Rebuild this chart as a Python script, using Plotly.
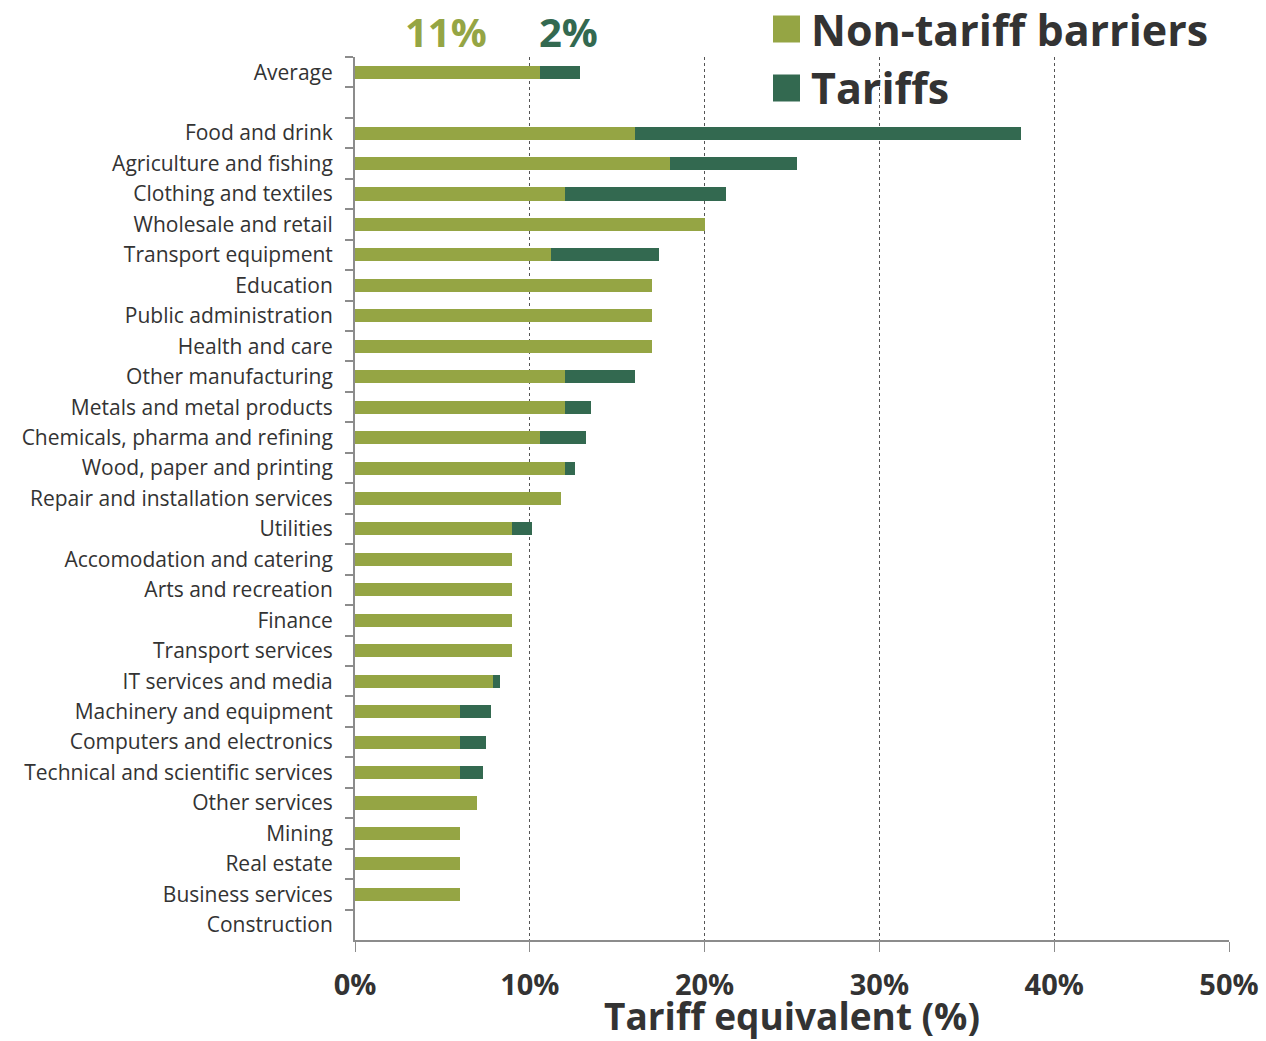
import plotly.graph_objects as go

categories = ["Average", " ", "Food and drink", "Agriculture and fishing", "Clothing and textiles",
              "Wholesale and retail", "Transport equipment", "Education", "Public administration",
              "Health and care", "Other manufacturing", "Metals and metal products",
              "Chemicals, pharma and refining", "Wood, paper and printing",
              "Repair and installation services", "Utilities", "Accomodation and catering",
              "Arts and recreation", "Finance", "Transport services", "IT services and media",
              "Machinery and equipment", "Computers and electronics",
              "Technical and scientific services", "Other services", "Mining", "Real estate",
              "Business services", "Construction"]

non_tariff = [10.6, None, 16.0, 18.0, 12.0, 20.0, 11.2, 17.0, 17.0, 17.0, 12.0, 12.0, 10.6, 12.0,
              11.8, 9.0, 9.0, 9.0, 9.0, 9.0, 7.9, 6.0, 6.0, 6.0, 7.0, 6.0, 6.0, 6.0, 0.0]
tariffs = [2.3, None, 22.1, 7.3, 9.2, 0.0, 6.2, 0.0, 0.0, 0.0, 4.0, 1.5, 2.6, 0.6,
           0.0, 1.1, 0.0, 0.0, 0.0, 0.0, 0.4, 1.8, 1.5, 1.3, 0.0, 0.0, 0.0, 0.0, 0.0]

avg_labels = ["11%", "2%"]
x_ticks = [0, 10, 20, 30, 40, 50]
x_tick_labels = ["0%", "10%", "20%", "30%", "40%", "50%"]

C_NTB = "#95A544"
C_TAR = "#336950"
TXT = "#333333"
FONT = "Open Sans"

fig = go.Figure()
fig.add_trace(go.Bar(y=categories, x=non_tariff, orientation="h", name="Non-tariff barriers",
                     marker=dict(color=C_NTB, line=dict(width=0)), showlegend=False))
fig.add_trace(go.Bar(y=categories, x=tariffs, orientation="h", name="Tariffs",
                     marker=dict(color=C_TAR, line=dict(width=0)), showlegend=False))

fig.update_layout(
    barmode="stack",
    bargap=0.57,
    width=1266, height=1041,
    margin=dict(l=355, r=37, t=57, b=101),
    paper_bgcolor="white", plot_bgcolor="white",
    font=dict(family=FONT, color=TXT),
    xaxis=dict(range=[0, 50], tickvals=x_ticks, ticktext=x_tick_labels,
               automargin=False,
               showgrid=True, gridcolor="#555555", griddash="dot", gridwidth=1,
               showline=True, linecolor="#8c8c8c", linewidth=2,
               ticks="outside", ticklen=10, tickcolor="#8c8c8c", tickwidth=1,
               ticklabelstandoff=8,
               tickfont=dict(family=FONT, size=29, color=TXT, weight="bold"),
               zeroline=False,
               title=dict(text="<b>Tariff equivalent (%)</b>", font=dict(family=FONT, size=37, color=TXT),
                          standoff=3)),
    yaxis=dict(categoryorder="array", categoryarray=categories, autorange="reversed",
               type="category", automargin=False,
               showline=True, linecolor="#8c8c8c", linewidth=2,
               ticks="outside", tickson="boundaries", ticklen=8, tickcolor="#8c8c8c", tickwidth=2,
               showgrid=False, ticklabelstandoff=16,
               tickfont=dict(family=FONT, size=21, color=TXT)),
)

# "11%" and "2%" annotations above the average bar
fig.add_annotation(x=5.2, y=1.0, xref="x", yref="paper", yanchor="bottom", yshift=-4,
                   text="<b>" + avg_labels[0] + "</b>", showarrow=False,
                   font=dict(family=FONT, size=40, color=C_NTB))
fig.add_annotation(x=12.2, y=1.0, xref="x", yref="paper", yanchor="bottom", yshift=-4,
                   text="<b>" + avg_labels[1] + "</b>", showarrow=False,
                   font=dict(family=FONT, size=40, color=C_TAR))

# Legend drawn manually (large squares)
legend_items = [("Non-tariff barriers", C_NTB, 29), ("Tariffs", C_TAR, 88)]
for name, col, yc in legend_items:
    fig.add_shape(type="rect", xref="paper", yref="paper",
                  x0=(773 - 355) / 874, x1=(800 - 355) / 874,
                  y0=(940 - (yc + 13.5)) / 883, y1=(940 - (yc - 13.5)) / 883,
                  fillcolor=col, line=dict(width=0))
    fig.add_annotation(x=(809 - 355) / 874, y=(940 - yc) / 883, xref="paper", yref="paper",
                       xanchor="left", yanchor="middle", showarrow=False,
                       text="<b>" + name + "</b>",
                       font=dict(family=FONT, size=43, color=TXT))

fig.write_html("out.html")
